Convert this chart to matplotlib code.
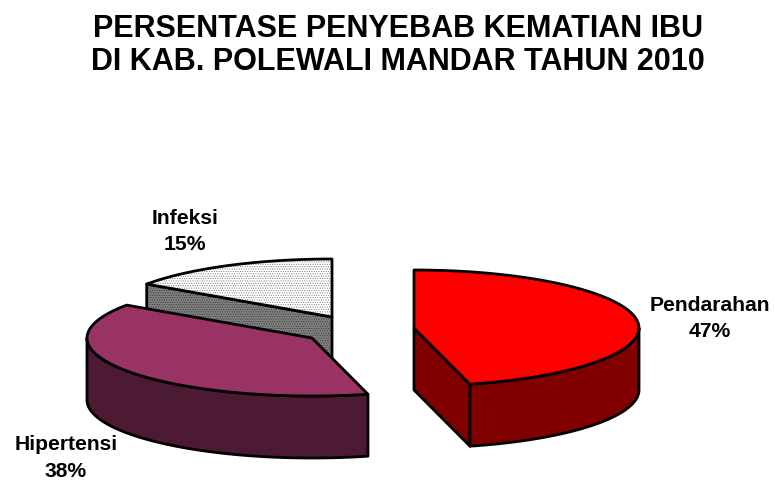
import numpy as np
import matplotlib
matplotlib.use('Agg')
import matplotlib.pyplot as plt
from matplotlib.patches import Polygon

plt.rcParams['font.family'] = ['Liberation Sans', 'DejaVu Sans']
plt.rcParams['hatch.linewidth'] = 0.4

title_lines = ['PERSENTASE PENYEBAB KEMATIAN IBU', 'DI KAB. POLEWALI MANDAR TAHUN 2010']
categories = ['Pendarahan', 'Hipertensi', 'Infeksi']
shares = [46.0, 38.6, 15.4]
pct_labels = ['47%', '38%', '15%']

# pixel layout of the exploded slices
centers = [(414, 328), (312, 338), (332, 317)]
rx, ry = 225, 58
depth = 62
line_w = 2.0

fig = plt.figure(figsize=(7.75, 4.8), dpi=100)
ax = fig.add_axes([0, 0, 1, 1])
ax.set_xlim(0, 775)
ax.set_ylim(480, 0)
ax.axis('off')

edges = np.concatenate([[0], np.cumsum(shares)]) / sum(shares) * 360


# angle is clockwise from the top of the pie
def rim(center, a0, a1, drop=0):
    t = np.radians(np.linspace(a0, a1, 120))
    return np.column_stack([center[0] + rx * np.sin(t), center[1] - ry * np.cos(t) + drop])


def poly(pts, fc, hatch=None, hatch_color='black'):
    if hatch:
        ax.add_patch(Polygon(pts, closed=True, facecolor=fc, edgecolor=hatch_color,
                             linewidth=0, hatch=hatch))
        fc = 'none'
    ax.add_patch(Polygon(pts, closed=True, facecolor=fc, edgecolor='black',
                         linewidth=line_w, joinstyle='round'))


def outer_wall(center, a0, a1, fc):
    top = rim(center, a0, a1)
    low = rim(center, a0, a1, depth)
    poly(np.vstack([top, low[::-1]]), fc)


def cut_wall(center, a, fc, **kw):
    c = np.array(center, dtype=float)
    p = rim(center, a, a)[0]
    poly(np.array([c, p, p + [0, depth], c + [0, depth]]), fc, **kw)


def top_face(center, a0, a1, fc, **kw):
    poly(np.vstack([[center], rim(center, a0, a1)]), fc, **kw)


# back slice first, the nearer ones paint over it
cut_wall(centers[2], edges[2], '#808080', hatch='.' * 7, hatch_color='#303030')
top_face(centers[2], edges[2], edges[3], 'white', hatch='.' * 7, hatch_color='#707070')

outer_wall(centers[1], edges[1], 270, '#4d1a33')
top_face(centers[1], edges[1], edges[2], '#993366')

cut_wall(centers[0], edges[1], '#800000')
outer_wall(centers[0], 90, edges[1], '#800000')
top_face(centers[0], edges[0], edges[1], '#ff0000')

for i, y in enumerate([29, 62]):
    ax.text(398, y, title_lines[i], ha='center', va='center', fontsize=22, fontweight='bold')

label_pos = [(710, 318.5), (66, 458), (185, 231.5)]
for name, pct, (x, y) in zip(categories, pct_labels, label_pos):
    ax.text(x, y, name + '\n' + pct, ha='center', va='center', fontsize=15.2,
            fontweight='bold', linespacing=1.5)

fig.savefig('out.png', dpi=100)
